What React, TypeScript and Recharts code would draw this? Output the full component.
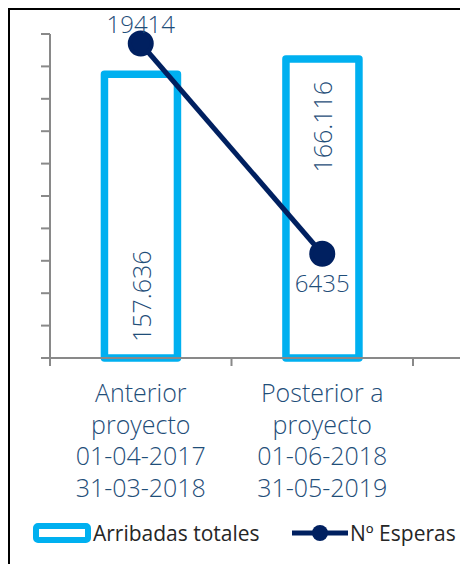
import React from "react";
import { ComposedChart, Bar, Line, XAxis, YAxis, Legend, LabelList } from "recharts";

// values
const categories = [
  "Anterior\nproyecto\n01-04-2017\n31-03-2018",
  "Posterior a\nproyecto\n01-06-2018\n31-05-2019",
];
const arribadasTotales = [157636, 166116];
const esperas = [19414, 6435];
const esperasTicks = [0, 2000, 4000, 6000, 8000, 10000, 12000, 14000, 16000, 18000, 20000];
const arribadasDomain = [0, 180000];
const seriesNames = ["Arribadas totales", "Nº Esperas"];

const data = categories.map((name, i) => ({
  name,
  arribadas: arribadasTotales[i],
  esperas: esperas[i],
}));

const BLUE = "#00B0F0";
const NAVY = "#002060";
const AXIS = "#898989";
const TEXT = "#1F4E79";
const FONT = "'Open Sans', sans-serif";
const WEIGHT = 300;

const W = 460;
const H = 564;
const PAD_RIGHT = 47;

const fmtThousands = (v: number) =>
  String(v).replace(/\B(?=(\d{3})+(?!\d))/g, ".");

const CategoryTick = (props: any) => {
  const { x, y, payload, index } = props;
  const half =
    payload && typeof payload.offset === "number" && payload.offset > 0
      ? payload.offset
      : (W - 50 - PAD_RIGHT) / categories.length / 2;
  const lines = String(payload.value).split("\n");
  const last = index === categories.length - 1;
  return (
    <g>
      <line x1={x - half} x2={x - half} y1={y - 8} y2={y} stroke={AXIS} strokeWidth={2} />
      {last && (
        <line x1={x + half} x2={x + half} y1={y - 8} y2={y} stroke={AXIS} strokeWidth={2} />
      )}
      <text x={x} y={y} textAnchor="middle" fill={TEXT} fontSize={25} fontWeight={WEIGHT} fontFamily={FONT}>
        {lines.map((l, i) => (
          <tspan key={i} x={x} dy={i === 0 ? 36 : 31.7}>
            {l}
          </tspan>
        ))}
      </text>
    </g>
  );
};

const BarValueLabel = (props: any) => {
  const { x, y, width, height, value, index } = props;
  const cx = x + width / 2;
  const ty = index === 0 ? y + height - 16 : y + 22;
  return (
    <text
      x={cx}
      y={ty}
      transform={`rotate(-90 ${cx} ${ty})`}
      textAnchor={index === 0 ? "start" : "end"}
      dominantBaseline="central"
      fill={TEXT}
      fontSize={25}
      fontWeight={WEIGHT}
      fontFamily={FONT}
    >
      {fmtThousands(value)}
    </text>
  );
};

const LineValueLabel = (props: any) => {
  const { x, y, value, index } = props;
  const ty = index === 0 ? y - 20 : y + 29;
  return (
    <text
      x={x}
      y={ty}
      textAnchor="middle"
      dominantBaseline="central"
      fill={TEXT}
      fontSize={24}
      fontWeight={WEIGHT}
      fontFamily={FONT}
    >
      {value}
    </text>
  );
};

const LegendBox = () => (
  <div
    style={{
      position: "relative",
      width: W,
      height: 44,
      fontFamily: FONT,
      fontSize: 21,
      color: "#262626",
      whiteSpace: "nowrap",
    }}
  >
    <svg width={60} height={22} style={{ position: "absolute", left: 32, top: 10 }}>
      <rect x={4} y={4} width={52} height={14} fill="#fff" stroke={BLUE} strokeWidth={6} rx={2} />
    </svg>
    <span style={{ position: "absolute", left: 93, top: 5, lineHeight: "32px" }}>{seriesNames[0]}</span>
    <svg width={58} height={22} style={{ position: "absolute", left: 291, top: 10 }}>
      <line x1={1} x2={57} y1={11} y2={11} stroke={NAVY} strokeWidth={5} />
      <circle cx={29} cy={11} r={8} fill={NAVY} />
    </svg>
    <span style={{ position: "absolute", left: 350, top: 5, lineHeight: "32px" }}>{seriesNames[1]}</span>
  </div>
);

export default function App() {
  return (
    <div style={{ position: "relative", width: W, height: H, overflow: "hidden", background: "#fff" }}>
      <style>{"body{margin:0}"}</style>
      <ComposedChart
        width={W}
        height={H}
        data={data}
        margin={{ top: 34, right: 0, bottom: 8, left: 0 }}
        barCategoryGap="30%"
      >
        <XAxis
          dataKey="name"
          axisLine={{ stroke: AXIS, strokeWidth: 2 }}
          tickLine={false}
          tickSize={8}
          tickMargin={0}
          height={154}
          interval={0}
          padding={{ left: 0, right: PAD_RIGHT }}
          tick={<CategoryTick />}
        />
        <YAxis
          yAxisId="left"
          width={50}
          domain={[0, 20000]}
          ticks={esperasTicks}
          interval={0}
          tickFormatter={() => ""}
          tickSize={9}
          axisLine={{ stroke: AXIS, strokeWidth: 2 }}
          tickLine={{ stroke: AXIS, strokeWidth: 2 }}
        />
        <YAxis yAxisId="right" orientation="right" hide domain={arribadasDomain} />
        <Legend verticalAlign="bottom" height={44} wrapperStyle={{ left: 0, width: W }} content={() => <LegendBox />} />
        <Bar
          dataKey="arribadas"
          name={seriesNames[0]}
          yAxisId="right"
          fill="#fff"
          stroke={BLUE}
          strokeWidth={7.5}
          strokeLinejoin="round"
          isAnimationActive={false}
        >
          <LabelList dataKey="arribadas" content={<BarValueLabel />} />
        </Bar>
        <Line
          dataKey="esperas"
          name={seriesNames[1]}
          yAxisId="left"
          stroke={NAVY}
          strokeWidth={5}
          dot={{ r: 11, fill: NAVY, stroke: NAVY, strokeWidth: 4 }}
          activeDot={false}
          isAnimationActive={false}
        >
          <LabelList dataKey="esperas" content={<LineValueLabel />} />
        </Line>
      </ComposedChart>
      <div
        style={{
          position: "absolute",
          left: 8,
          top: 8,
          width: W,
          height: H,
          borderLeft: "2px solid #000",
          borderTop: "2px solid #000",
          pointerEvents: "none",
        }}
      />
    </div>
  );
}
